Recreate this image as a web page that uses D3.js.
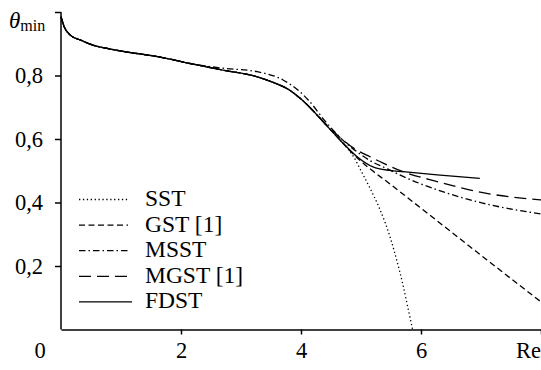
<!DOCTYPE html>
<html>
<head>
<meta charset="utf-8">
<script src="https://cdn.jsdelivr.net/npm/d3@7"></script>
<style>
  body { margin: 0; background: #fff; }
  svg text { font-family: "Liberation Serif", "DejaVu Serif", serif; fill: #000; }
</style>
</head>
<body>
<div id="graph"></div>
<script>
// common start of all curves (they overlap up to Re ~ 2.5)
const reBase = [0, 0.05, 0.15, 0.32, 0.53, 0.8, 1.1, 1.65, 2.2];
const thBase = [0.985, 0.955, 0.928, 0.912, 0.896, 0.884, 0.874, 0.858, 0.836];

const reFDST = [2.7, 3.27, 3.5, 3.8, 4.0, 4.2, 4.4, 4.65, 4.93, 5.2, 5.48, 5.7, 6.27, 6.98];
const thFDST = [0.817, 0.796, 0.781, 0.755, 0.726, 0.689, 0.648, 0.597, 0.545, 0.512, 0.501, 0.497, 0.487, 0.476];

const reMSST = [2.7, 3.27, 3.7, 3.98, 4.12, 4.4, 4.65, 4.93, 5.15, 5.45, 5.7, 6.27, 7.03, 8];
const thMSST = [0.823, 0.812, 0.786, 0.749, 0.723, 0.657, 0.605, 0.56, 0.532, 0.505, 0.482, 0.44, 0.398, 0.364];

const reMGST = [2.7, 3.27, 3.5, 3.8, 4.0, 4.2, 4.4, 4.65, 4.93, 5.15, 5.37, 5.7, 6.27, 7.03, 8];
const thMGST = [0.817, 0.796, 0.781, 0.755, 0.726, 0.690, 0.650, 0.605, 0.565, 0.544, 0.524, 0.497, 0.466, 0.431, 0.408];

const reGST = [2.7, 3.27, 3.5, 3.8, 4.0, 4.2, 4.4, 4.65, 4.8, 5.0, 5.15, 5.43, 5.98, 6.27, 7.1, 8];
const thGST = [0.817, 0.796, 0.781, 0.755, 0.726, 0.689, 0.648, 0.597, 0.566, 0.530, 0.506, 0.466, 0.385, 0.342, 0.219, 0.087];

const reSST = [2.7, 3.27, 3.5, 3.8, 4.0, 4.2, 4.4, 4.65, 4.8, 4.88, 5.0, 5.15, 5.3, 5.4, 5.5, 5.6, 5.7, 5.78, 5.86];
const thSST = [0.817, 0.796, 0.781, 0.755, 0.726, 0.689, 0.648, 0.597, 0.565, 0.543, 0.500, 0.445, 0.385, 0.338, 0.282, 0.215, 0.14, 0.07, 0.0];

const names = ["SST", "GST [1]", "MSST", "MGST [1]", "FDST"];
const dashes = ["1.3,2.6", "6,3.5", "6.5,3,1.5,3", "12,6", null];

const yTicks = [0.2, 0.4, 0.6, 0.8, 1.0];
const xTicks = [2, 4, 6, 8];

const width = 541, height = 370;
const font = "'Liberation Serif', 'DejaVu Serif', serif";

function join(re, th) {
  const pts = [];
  for (let i = 0; i < reBase.length; i++) pts.push([reBase[i], thBase[i]]);
  for (let i = 0; i < re.length; i++) pts.push([re[i], th[i]]);
  return pts;
}

const series = [
  join(reSST, thSST),
  join(reGST, thGST),
  join(reMSST, thMSST),
  join(reMGST, thMGST),
  join(reFDST, thFDST)
];

const svg = d3.select("#graph").append("svg")
  .attr("width", width)
  .attr("height", height)
  .attr("font-family", font);

const x = d3.scaleLinear().domain([0, 8]).range([61, 541]);
const y = d3.scaleLinear().domain([0, 1]).range([329.5, 12]);

const line = d3.line()
  .x(d => x(d[0]))
  .y(d => y(d[1]))
  .curve(d3.curveMonotoneX);

svg.append("g")
  .selectAll("path")
  .data(series)
  .enter().append("path")
    .attr("d", line)
    .attr("fill", "none")
    .attr("stroke", "#000")
    .attr("stroke-width", 1.3)
    .attr("stroke-dasharray", (d, i) => dashes[i]);

// axes
const yAxis = svg.append("g")
  .attr("transform", "translate(" + x(0) + ",0)")
  .call(d3.axisLeft(y).tickValues(yTicks).tickSizeInner(6).tickSizeOuter(0).tickPadding(12)
    .tickFormat(d => d === 1 ? "" : d3.format(".1f")(d).replace(".", ",")));

const xAxis = svg.append("g")
  .attr("transform", "translate(0," + y(0) + ")")
  .call(d3.axisBottom(x).tickValues(xTicks).tickSizeInner(5).tickSizeOuter(0).tickPadding(8)
    .tickFormat(d => d === 8 ? "" : d));

[yAxis, xAxis].forEach(a => {
  a.attr("font-family", font);
  a.select(".domain").attr("stroke-width", 1.5);
  a.selectAll(".tick line").attr("stroke-width", 1.5);
  a.selectAll("text").style("font-size", "22.5px").style("font-family", font);
});
yAxis.select(".domain").attr("d", "M0," + y(1) + "V" + y(0));

svg.append("text")
  .attr("x", x(8))
  .attr("y", 358)
  .attr("text-anchor", "end")
  .style("font-size", "22.5px")
  .text("Re");

svg.append("text")
  .attr("x", 40)
  .attr("y", 358)
  .attr("text-anchor", "middle")
  .style("font-size", "22.5px")
  .text("0");

const lab = svg.append("text")
  .attr("x", 9)
  .attr("y", 28);
lab.append("tspan").style("font-size", "23px").style("font-style", "italic").text("θ");
lab.append("tspan").attr("dy", 3).style("font-size", "16px").text("min");

// legend
const legend = svg.append("g");
legend.selectAll("line")
  .data(names)
  .enter().append("line")
    .attr("x1", 79)
    .attr("x2", (d, i) => i === 4 ? 132 : 128)
    .attr("y1", (d, i) => 199.5 + i * 25.6)
    .attr("y2", (d, i) => 199.5 + i * 25.6)
    .attr("stroke", "#000")
    .attr("stroke-width", 1.3)
    .attr("stroke-dasharray", (d, i) => dashes[i]);

legend.selectAll("text")
  .data(names)
  .enter().append("text")
    .attr("x", 145)
    .attr("y", (d, i) => 206 + i * 25.6)
    .style("font-size", "23.5px")
    .text(d => d);
</script>
</body>
</html>
